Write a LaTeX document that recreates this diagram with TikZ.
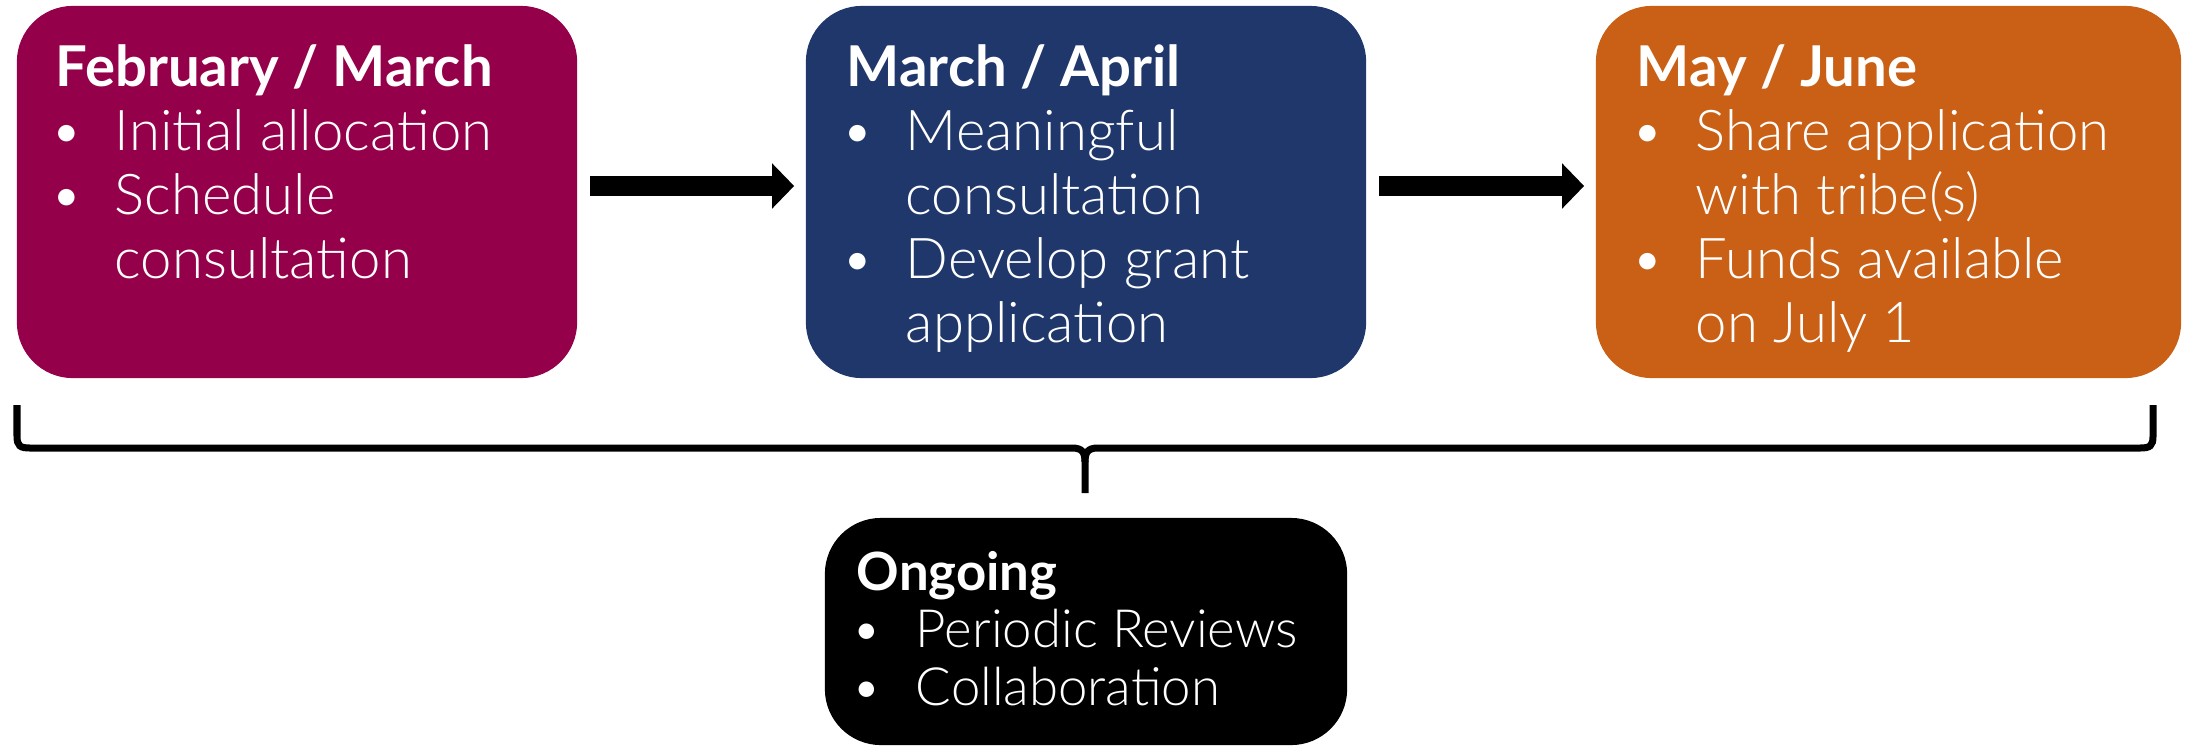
\documentclass[tikz,border=0pt]{standalone}
\usepackage{fontspec}
\setmainfont{Lato}[UprightFont={* Light},BoldFont={* Bold}]
\usetikzlibrary{arrows.meta,calc}

\definecolor{febred}{HTML}{95004A}
\definecolor{aprblue}{HTML}{1F376B}
\definecolor{juneorange}{HTML}{C96016}

\newcommand{\bul}{\makebox[0.59cm][l]{\hspace{-0.05cm}\textbullet}}
\newcommand{\gap}{\hspace*{0.59cm}}
\newcommand{\steplines}[1]{\begin{tabular}[t]{@{}l@{}}#1\end{tabular}}

\begin{document}
\begin{tikzpicture}[
    x=0.01cm, y=-0.01cm,
    stage/.style={rectangle, rounded corners=0.56cm, minimum width=5.6cm, minimum height=3.72cm, inner sep=0pt},
    steptext/.style={anchor=base west, text=white, inner sep=0pt, font=\fontsize{16}{18.2}\selectfont},
    flow/.style={-{Triangle[length=0.22cm, width=0.44cm]}, line width=0.2cm, shorten <=0.12cm, shorten >=0.11cm},
    bracket/.style={line width=0.07cm}
]
    \useasboundingbox (0,0) rectangle (2195,745);

    % Stages
    \node[stage, fill=febred] (feb) at (297,192) {};
    \node[stage, fill=aprblue] (apr) at (1086,192) {};
    \node[stage, fill=juneorange, minimum width=5.85cm] (june) at (1888.5,192) {};
    \node[stage, fill=black, minimum width=5.22cm, minimum height=2.27cm] (ongoing) at (1086,631.5) {};

    % Texts
    \node[steptext] (febtext) at ($(feb.north west)+(39,81)$)
        {\steplines{\textbf{February / March}\\ \bul Initial allocation\\ \bul Schedule\\ \gap consultation}};
    \node[steptext] (aprtext) at ($(apr.north west)+(41,81)$)
        {\steplines{\textbf{March / April}\\ \bul Meaningful\\ \gap consultation\\ \bul Develop grant\\ \gap application}};
    \node[steptext] (junetext) at ($(june.north west)+(41,81)$)
        {\steplines{\textbf{May / June}\\ \bul Share application\\ \gap with tribe(s)\\ \bul Funds available\\ \gap on July 1}};
    \node[steptext, font=\fontsize{15}{16.4}\selectfont] (ongoingtext) at ($(ongoing.north west)+(32,73)$)
        {\steplines{\textbf{Ongoing}\\ \bul Periodic Reviews\\ \bul Collaboration}};

    % Arrows
    \draw[flow] ([yshift=0.06cm]feb.east) -- ([yshift=0.06cm]apr.west);
    \draw[flow] ([yshift=0.06cm]apr.east) -- ([yshift=0.06cm]june.west);

    % Bracket
    \draw[bracket] (17,405) -- (17,436) .. controls (17,446) and (20,448) .. (30,448) -- (1072,448)
        .. controls (1082,448) and (1085,452) .. (1085,462) -- (1085,493);
    \draw[bracket] (2153,405) -- (2153,436) .. controls (2153,446) and (2150,448) .. (2140,448) -- (1098,448)
        .. controls (1088,448) and (1085,452) .. (1085,462);

\end{tikzpicture}
\end{document}
